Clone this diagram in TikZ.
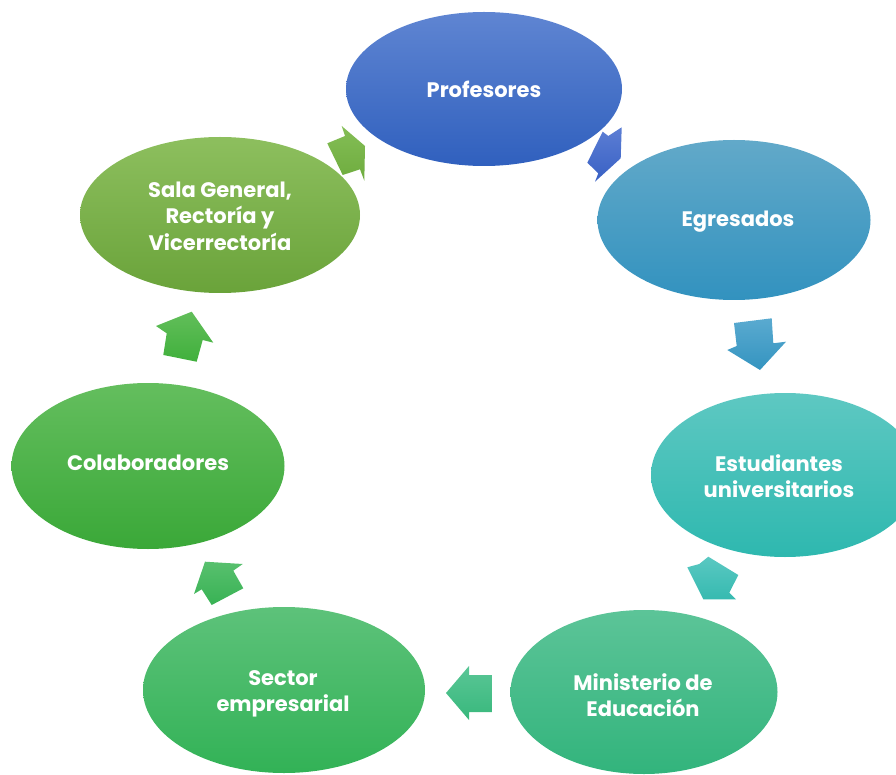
\documentclass[tikz,border=0pt]{standalone}
\usepackage{fontspec}
\setmainfont{Poppins}
\usetikzlibrary{shapes.geometric}
\tikzset{
  bub/.style={ellipse, draw=none, inner sep=0pt, shading=axis},
  lbl/.style={align=center, text=white, inner sep=0pt,
    font=\fontsize{21}{26.5}\selectfont\bfseries},
  blk/.style={draw=none, shading=axis}
}
\begin{document}
\begin{tikzpicture}[x=1pt,y=-1pt]
\useasboundingbox (0,0) rectangle (896,775);
\clip (0,0) rectangle (896,775);
% ellipses
\node[bub, minimum width=276pt, minimum height=154pt, top color={rgb,255:red,95;green,133;blue,210}, bottom color={rgb,255:red,48;green,96;blue,190}] (prof) at (484,89) {};
\node[bub, minimum width=273pt, minimum height=160pt, top color={rgb,255:red,98;green,169;blue,201}, bottom color={rgb,255:red,50;green,146;blue,191}] (egr) at (734,220) {};
\node[bub, minimum width=268pt, minimum height=164pt, top color={rgb,255:red,94;green,200;blue,194}, bottom color={rgb,255:red,46;green,184;blue,175}] (est) at (785,475) {};
\node[bub, minimum width=267pt, minimum height=164pt, top color={rgb,255:red,92;green,196;blue,152}, bottom color={rgb,255:red,50;green,180;blue,124}] (min) at (644,692) {};
\node[bub, minimum width=282pt, minimum height=166pt, top color={rgb,255:red,93;green,194;blue,122}, bottom color={rgb,255:red,50;green,178;blue,86}] (sec) at (284,690) {};
\node[bub, minimum width=273pt, minimum height=166pt, top color={rgb,255:red,100;green,190;blue,94}, bottom color={rgb,255:red,58;green,168;blue,56}] (col) at (148,466) {};
\node[bub, minimum width=280pt, minimum height=156pt, top color={rgb,255:red,141;green,191;blue,94}, bottom color={rgb,255:red,106;green,163;blue,58}] (sala) at (220,215) {};
% labels
\node[lbl] (profT) at (484,89) {Profesores};
\node[lbl] (egrT) at (738,222) {Egresados};
\node[lbl] (estT) at (779,476) {Estudiantes\\universitarios};
\node[lbl] (minT) at (643,695) {Ministerio de\\Educación};
\node[lbl] (secT) at (283,694) {Sector\\empresarial};
\node[lbl] (colT) at (148,463) {Colaboradores};
\node[lbl] (salaT) at (220,216) {Sala General,\\Rectoría y\\Vicerrectoría};
% block arrows
\path[blk, top color={rgb,255:red,132;green,190;blue,86}, bottom color={rgb,255:red,110;green,172;blue,62}]
  (341.7,126) -- (345,136) -- (327.3,143.3) -- (342.7,175) -- (360,169.3) -- (364.3,180.7) -- (365,146) -- cycle;
\path[blk, top color={rgb,255:red,92;green,126;blue,212}, bottom color={rgb,255:red,56;green,96;blue,196}]
  (602.7,131.7) -- (608.3,136) -- (621.7,127.3) -- (620.7,158.3) -- (595,181.7) -- (598.3,173.3) -- (587.3,162.7) -- cycle;
\path[blk, top color={rgb,255:red,90;green,170;blue,208}, bottom color={rgb,255:red,52;green,148;blue,192}]
  (734,323) -- (771.7,318.3) -- (773.3,343.3) -- (786,341.7) -- (760,370) -- (727.3,350) -- (736.7,346) -- cycle;
\path[blk, top color={rgb,255:red,90;green,200;blue,194}, bottom color={rgb,255:red,54;green,186;blue,176}]
  (708.3,556.7) -- (738.3,575) -- (729.3,592.7) -- (736,599.3) -- (703.3,599.3) -- (687.3,567.3) -- (699.3,564) -- cycle;
\path[blk, top color={rgb,255:red,90;green,198;blue,150}, bottom color={rgb,255:red,56;green,184;blue,124}]
  (446,693) -- (469,666) -- (469,675) -- (492,675) -- (492,712) -- (469,712) -- (469,720) -- cycle;
\path[blk, top color={rgb,255:red,88;green,192;blue,110}, bottom color={rgb,255:red,56;green,178;blue,84}]
  (205,561.7) -- (242.7,564) -- (233.3,570.7) -- (243.3,588.3) -- (211.7,605) -- (201.7,589.3) -- (194,594) -- cycle;
\path[blk, top color={rgb,255:red,98;green,190;blue,90}, bottom color={rgb,255:red,64;green,176;blue,60}]
  (191.7,311.7) -- (213.3,342.7) -- (202.7,340) -- (196.7,361.7) -- (163.3,355) -- (166.7,333.3) -- (156,326) -- cycle;
\end{tikzpicture}
\end{document}
